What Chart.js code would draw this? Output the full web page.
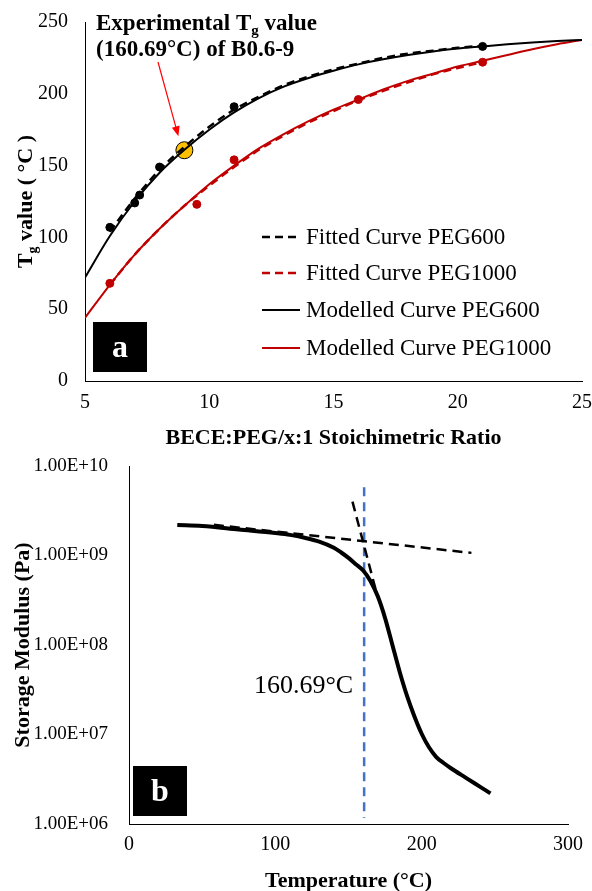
<!DOCTYPE html>
<html>
<head>
<meta charset="utf-8">
<script src="https://cdn.jsdelivr.net/npm/chart.js@4.4.1/dist/chart.umd.min.js"></script>
<style>
  body { margin: 0; background: #fff; }
  #wrap { position: relative; width: 592px; height: 891px; }
  #tgChart { position: absolute; left: 0; top: 0; }
  #dmaChart { position: absolute; left: 0; top: 455px; }
</style>
</head>
<body>
<div id="wrap">
  <canvas id="tgChart" width="592" height="455"></canvas>
  <canvas id="dmaChart" width="592" height="436"></canvas>
</div>
<script>
// ---- (a) Tg vs stoichiometric ratio ----
const ratioGrid = [5, 6, 7, 8, 9, 10, 11, 12, 13, 14, 15, 16, 17, 18, 19, 20, 21, 22, 23, 24, 25];
const modelPEG600 = [72, 101, 125, 145, 161, 175, 187, 197, 205, 211, 216, 220.5, 224, 227, 229.5, 231.5, 233, 234.5, 235.8, 236.8, 237.5];
const modelPEG1000 = [44, 67, 88, 106, 122, 137, 150, 162, 172, 181, 189, 196, 203, 209, 214, 219, 223, 227, 231, 234.5, 237.5];

const fitRatio = [6, 7, 8, 9, 10, 11, 12, 13, 14, 15, 16, 17, 18, 19, 20, 21];
const fitPEG600 = [104, 127, 147, 163, 177, 189, 198, 206, 212, 217, 221, 225, 228, 230, 232, 233.5];
const fitPEG1000 = [67, 88, 106, 122, 136, 149, 161, 171, 180, 188, 195.5, 202, 208, 213.5, 218, 222];

const expRatio600 = [6, 7, 7.2, 8, 11, 21];
const expTg600 = [107, 124, 129.5, 149, 191, 233];
const expRatio1000 = [6, 9.5, 11, 16, 21];
const expTg1000 = [68, 123, 154, 196, 222];

const b069Ratio = 9;
const b069Tg = 160.69;

// ---- (b) DMA storage modulus ----
const tempC = [33, 50, 75, 100, 110, 120, 130, 140, 145, 150, 155, 160, 165, 170, 175, 180, 185, 190, 195, 200, 205, 210, 215, 220, 230, 240, 247];
const storageModulus = [2.19e9, 2.14e9, 1.95e9, 1.78e9, 1.70e9, 1.58e9, 1.43e9, 1.22e9, 1.08e9, 9.4e8, 8.0e8, 6.8e8, 5.2e8, 3.5e8, 2.0e8, 1.0e8, 5.0e7, 2.7e7, 1.6e7, 1.02e7, 7.2e6, 5.6e6, 4.8e6, 4.2e6, 3.3e6, 2.6e6, 2.2e6];
const glassyTangentT = [58, 234];
const glassyTangentE = [2.2e9, 1.07e9];
const dropTangentT = [152.7, 169.2];
const dropTangentE = [4.0e9, 3.8e8];
const onsetLineE = [5.8e9, 1.17e6];
const logTicks = [1e6, 1e7, 1e8, 1e9, 1e10];

const SERIF = "'Liberation Serif', 'Times New Roman', serif";
const RED = '#C00000';

const pts = (xs, ys) => xs.map((x, i) => ({ x: x, y: ys[i] }));

function sci(v) {
  const e = Math.round(Math.log10(v));
  const m = v / Math.pow(10, e);
  return m.toFixed(2) + 'E+' + String(e).padStart(2, '0');
}

// draws a list of text runs one after another
function runsWidth(ctx, runs) {
  let w = 0;
  runs.forEach(r => { ctx.font = r.font; w += ctx.measureText(r.text).width; });
  return w;
}
function drawRuns(ctx, runs, x, y) {
  runs.forEach(r => {
    ctx.font = r.font;
    ctx.fillText(r.text, x, y + (r.dy || 0));
    x += ctx.measureText(r.text).width;
  });
}

function letterBox(ctx, x, y, letter) {
  ctx.fillStyle = '#000';
  ctx.fillRect(x, y, 54, 50);
  ctx.fillStyle = '#fff';
  ctx.font = 'bold 32px ' + SERIF;
  ctx.textAlign = 'center';
  ctx.textBaseline = 'alphabetic';
  ctx.fillText(letter, x + 27, y + 35);
}

// fixed axis box sizes, no extra label padding so the plot area stays put
function fixSize(w, h) {
  return s => {
    if (w !== null) s.width = w;
    if (h !== null) s.height = h;
    s.paddingLeft = s.paddingRight = s.paddingTop = s.paddingBottom = 0;
  };
}

function axisStyle(size, pad, step) {
  return {
    grid: { display: false, drawTicks: false },
    border: { display: true, color: '#000', width: 1 },
    ticks: { color: '#000', font: { family: SERIF, size: size }, padding: pad, maxRotation: 0, stepSize: step }
  };
}

const tgDecor = {
  id: 'tgDecor',
  afterDraw(chart) {
    const ctx = chart.ctx;
    const area = chart.chartArea;
    ctx.save();
    ctx.fillStyle = '#000';
    ctx.textBaseline = 'alphabetic';
    ctx.textAlign = 'left';

    // y axis title with subscript
    const bold = 'bold 22px ' + SERIF;
    const sub = 'bold 14px ' + SERIF;
    const yTitle = [
      { text: 'T', font: bold },
      { text: 'g', font: sub, dy: 5 },
      { text: ' value ( \u00B0C )', font: bold }
    ];
    ctx.save();
    ctx.translate(32, (area.top + area.bottom) / 2);
    ctx.rotate(-Math.PI / 2);
    drawRuns(ctx, yTitle, -runsWidth(ctx, yTitle) / 2, 0);
    ctx.restore();

    // x axis title
    ctx.font = bold;
    ctx.textAlign = 'center';
    ctx.fillText('BECE:PEG/x:1 Stoichimetric Ratio', (area.left + area.right) / 2, 444);
    ctx.textAlign = 'left';

    // annotation for the experimental point
    const ann = 'bold 23px ' + SERIF;
    drawRuns(ctx, [
      { text: 'Experimental T', font: ann },
      { text: 'g', font: 'bold 15px ' + SERIF, dy: 5 },
      { text: ' value', font: ann }
    ], 96, 30);
    ctx.font = ann;
    ctx.fillText('(160.69\u00B0C) of B0.6-9', 96, 56);

    // arrow towards the point
    const xs = chart.scales.x, ys = chart.scales.y;
    const tx = xs.getPixelForValue(b069Ratio) - 6;
    const ty = ys.getPixelForValue(b069Tg) - 14;
    const sx = 158, sy = 62;
    const ang = Math.atan2(ty - sy, tx - sx);
    ctx.strokeStyle = '#FF0000';
    ctx.fillStyle = '#FF0000';
    ctx.lineWidth = 1.2;
    ctx.beginPath();
    ctx.moveTo(sx, sy);
    ctx.lineTo(tx - 8 * Math.cos(ang), ty - 8 * Math.sin(ang));
    ctx.stroke();
    ctx.beginPath();
    ctx.moveTo(tx, ty);
    ctx.lineTo(tx - 10 * Math.cos(ang) + 4 * Math.sin(ang), ty - 10 * Math.sin(ang) - 4 * Math.cos(ang));
    ctx.lineTo(tx - 10 * Math.cos(ang) - 4 * Math.sin(ang), ty - 10 * Math.sin(ang) + 4 * Math.cos(ang));
    ctx.closePath();
    ctx.fill();

    // legend for the four curves
    ctx.font = '23px ' + SERIF;
    ctx.textBaseline = 'middle';
    [237, 273, 310, 348].forEach((ly, i) => {
      const ds = chart.data.datasets[i];
      ctx.strokeStyle = ds.borderColor;
      ctx.lineWidth = ds.borderWidth;
      ctx.setLineDash(ds.borderDash || []);
      ctx.beginPath();
      ctx.moveTo(262, ly);
      ctx.lineTo(300, ly);
      ctx.stroke();
      ctx.setLineDash([]);
      ctx.fillStyle = '#000';
      ctx.fillText(ds.label, 306, ly + 1);
    });

    letterBox(ctx, area.left + 8, area.bottom - 59, 'a');
    ctx.restore();
  }
};

new Chart('tgChart', {
  type: 'line',
  data: {
    datasets: [
      { label: 'Fitted Curve PEG600', data: pts(fitRatio, fitPEG600), borderColor: '#000', borderWidth: 2.5, borderDash: [8, 5], pointRadius: 0, cubicInterpolationMode: 'monotone' },
      { label: 'Fitted Curve PEG1000', data: pts(fitRatio, fitPEG1000), borderColor: RED, borderWidth: 2.5, borderDash: [8, 5], pointRadius: 0, cubicInterpolationMode: 'monotone' },
      { label: 'Modelled Curve PEG600', data: pts(ratioGrid, modelPEG600), borderColor: '#000', borderWidth: 2, pointRadius: 0, cubicInterpolationMode: 'monotone' },
      { label: 'Modelled Curve PEG1000', data: pts(ratioGrid, modelPEG1000), borderColor: RED, borderWidth: 2, pointRadius: 0, cubicInterpolationMode: 'monotone' },
      { label: 'PEG600 data', data: pts(expRatio600, expTg600), showLine: false, pointRadius: 4, backgroundColor: '#000', borderColor: '#000' },
      { label: 'PEG1000 data', data: pts(expRatio1000, expTg1000), showLine: false, pointRadius: 4, backgroundColor: RED, borderColor: RED },
      { label: 'B0.6-9', data: [{ x: b069Ratio, y: b069Tg }], showLine: false, pointRadius: 8.5, backgroundColor: '#FFC000', borderColor: '#000', borderWidth: 1 }
    ]
  },
  options: {
    responsive: false,
    animation: false,
    layout: { padding: { top: 22, right: 10, left: 0, bottom: 0 } },
    plugins: { legend: { display: false }, tooltip: { enabled: false } },
    scales: {
      x: Object.assign(axisStyle(20, 10, 5), {
        type: 'linear', min: 5, max: 25,
        afterFit: fixSize(null, 455 - 381)
      }),
      y: Object.assign(axisStyle(20, 17, 50), {
        min: 0, max: 250,
        afterFit: fixSize(85, null)
      })
    }
  },
  plugins: [tgDecor]
});

const dmaDecor = {
  id: 'dmaDecor',
  afterDraw(chart) {
    const ctx = chart.ctx;
    const area = chart.chartArea;
    ctx.save();
    ctx.fillStyle = '#000';
    ctx.textBaseline = 'alphabetic';
    const bold = 'bold 22px ' + SERIF;

    ctx.save();
    ctx.translate(29, (area.top + area.bottom) / 2);
    ctx.rotate(-Math.PI / 2);
    ctx.font = bold;
    ctx.textAlign = 'center';
    ctx.fillText('Storage Modulus (Pa)', 0, 0);
    ctx.restore();

    ctx.font = bold;
    ctx.textAlign = 'center';
    ctx.fillText('Temperature (\u00B0C)', (area.left + area.right) / 2, 432);

    // onset temperature label, left of the dashed marker
    const xPix = chart.scales.x.getPixelForValue(b069Tg);
    ctx.font = '26px ' + SERIF;
    ctx.textAlign = 'right';
    ctx.fillText(b069Tg.toFixed(2) + '\u00B0C', xPix - 11, 238);

    letterBox(ctx, area.left + 4, area.bottom - 58, 'b');
    ctx.restore();
  }
};

new Chart('dmaChart', {
  type: 'line',
  data: {
    datasets: [
      { label: 'Storage modulus', data: pts(tempC, storageModulus), borderColor: '#000', borderWidth: 4, pointRadius: 0, cubicInterpolationMode: 'monotone' },
      { label: 'Glassy tangent', data: pts(glassyTangentT, glassyTangentE), borderColor: '#000', borderWidth: 2.5, borderDash: [10, 6], pointRadius: 0 },
      { label: 'Drop tangent', data: pts(dropTangentT, dropTangentE), borderColor: '#000', borderWidth: 2.5, borderDash: [10, 6], pointRadius: 0 },
      { label: 'Onset', data: pts([b069Tg, b069Tg], onsetLineE), borderColor: '#4472C4', borderWidth: 2.5, borderDash: [9, 6], pointRadius: 0 }
    ]
  },
  options: {
    responsive: false,
    animation: false,
    layout: { padding: { top: 11, right: 24, left: 0, bottom: 0 } },
    plugins: { legend: { display: false }, tooltip: { enabled: false } },
    scales: {
      x: Object.assign(axisStyle(20, 9, 100), {
        type: 'linear', min: 0, max: 300,
        afterFit: fixSize(null, 436 - 369)
      }),
      y: Object.assign(axisStyle(19, 21), {
        type: 'logarithmic', min: 1e6, max: 1e10,
        afterBuildTicks: s => { s.ticks = logTicks.map(v => ({ value: v })); },
        afterFit: fixSize(129, null)
      })
    }
  },
  plugins: [dmaDecor]
});
const dma = Chart.getChart('dmaChart');
dma.options.scales.y.ticks.callback = v => sci(v);
dma.update();
</script>
</body>
</html>
